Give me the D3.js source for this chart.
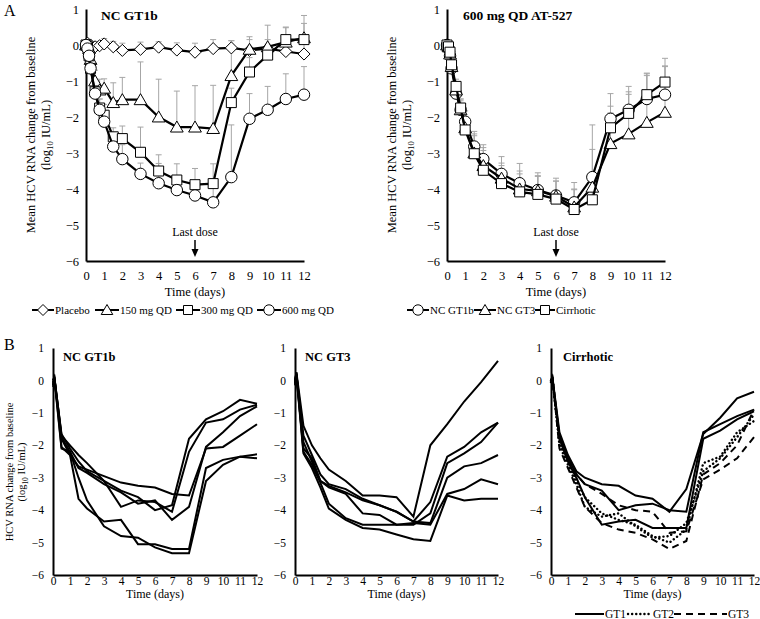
<!DOCTYPE html>
<html><head><meta charset="utf-8">
<script src="https://cdn.jsdelivr.net/npm/d3@7"></script>
<style>body{margin:0;background:#fff}text{font-family:"Liberation Serif","Times New Roman",serif;fill:#000}</style>
</head><body><svg id="c" width="760" height="619"></svg>
<script>
// ---------- DATA ----------
const daysA = [0,0.083,0.167,0.25,0.5,0.75,1,1.5,2,3,4,5,6,7,8,9,10,11,12];
// Panel A left: NC GT1b by dose
const placebo    = [0,0.05,-0.05,0,-0.05,-0.02,0.03,-0.05,-0.15,-0.12,-0.06,-0.14,-0.2,-0.1,-0.08,-0.15,-0.1,-0.18,-0.25];
const placeboErr = [0.1,0.1,0.15,0.1,0.15,0.1,0.15,0.15,0.2,0.2,0.15,0.2,0.25,0.25,0.2,0.3,0.25,0.3,0.3];
const mg150      = [0,0,-0.1,-0.4,-1.0,-1.25,-1.2,-1.6,-1.52,-1.52,-2.0,-2.28,-2.28,-2.32,-0.85,-0.12,-0.05,0.08,0.2];
const mg150Err   = [0.1,0.1,0.2,0.25,0.3,0.3,0.26,0.55,0.62,1.05,1.05,1.0,1.15,1.2,0.97,0.35,0.6,0.4,0.62];
const mg300      = [0,-0.05,-0.3,-0.65,-1.3,-1.75,-1.95,-2.55,-2.6,-2.98,-3.5,-3.75,-3.88,-3.85,-1.6,-0.75,-0.28,0.15,0.15];
const mg300Err   = [0.1,0.1,0.15,0.2,0.2,0.25,0.3,0.25,0.35,0.7,0.45,0.45,0.45,0.55,0.4,0.4,0.3,0.35,0.45];
const mg600      = [0,-0.1,-0.3,-0.65,-1.35,-1.8,-2.13,-2.82,-3.17,-3.58,-3.84,-4.03,-4.18,-4.37,-3.67,-2.05,-1.8,-1.5,-1.38];
const mg600Err   = [0.1,0.1,0.15,0.2,0.25,0.3,0.3,0.35,0.4,0.3,0.55,0.4,0.4,0.55,1.45,0.7,0.65,0.7,0.78];
// Panel A right: 600 mg QD by population
const gt1b       = mg600;
const gt1bErr    = mg600Err;
const gt3        = [0,-0.05,-0.25,-0.6,-1.25,-1.8,-2.3,-3.0,-3.35,-3.7,-4.0,-4.05,-4.2,-4.5,-3.95,-2.74,-2.47,-2.15,-1.87];
const gt3Err     = [0.1,0.1,0.15,0.2,0.2,0.25,0.3,0.6,0.5,0.6,0.5,0.5,0.5,0.5,1.05,0.85,1.1,1.3,1.5];
const cirr       = [0,-0.05,-0.2,-0.55,-1.15,-1.75,-2.36,-3.02,-3.48,-3.85,-4.08,-4.15,-4.28,-4.57,-4.3,-2.3,-1.9,-1.38,-1.03];
const cirrErr    = [0.1,0.1,0.15,0.2,0.2,0.25,0.3,0.5,0.55,0.5,0.5,0.5,0.5,0.55,0.3,0.6,0.6,0.6,0.45];
// Panel B: individual patients
const daysB = [0,0.083,0.5,1,1.5,2,3,4,5,6,7,8,9,10,11,12];
const gt1bPts = [
  [0,0.1,-1.7,-2.0,-2.3,-2.55,-3.1,-3.4,-3.6,-4.0,-3.85,-1.8,-1.2,-0.95,-0.6,-0.72],
  [-0.1,0.05,-1.65,-2.1,-2.5,-2.8,-3.1,-3.9,-3.7,-3.75,-4.05,-2.2,-1.3,-1.2,-0.9,-0.75],
  [0,0.1,-1.75,-2.2,-2.7,-2.85,-3.2,-3.45,-3.8,-3.7,-4.3,-3.9,-2.05,-1.6,-1.1,-0.8],
  [-0.05,0.05,-1.8,-2.3,-2.65,-2.75,-2.95,-3.15,-3.25,-3.3,-3.5,-3.55,-2.1,-2.05,-1.7,-1.35],
  [-0.15,0.1,-2.05,-2.3,-3.65,-3.95,-4.35,-4.3,-5.05,-5.05,-5.2,-5.2,-2.7,-2.45,-2.35,-2.4],
  [-0.2,0.05,-2.1,-2.2,-3.0,-3.7,-4.5,-4.8,-4.85,-5.15,-5.33,-5.33,-3.1,-2.6,-2.35,-2.28]
];
const gt3Pts = [
  [0,0.25,-1.4,-2.0,-2.4,-2.75,-3.1,-3.55,-3.55,-3.6,-4.2,-2.0,-1.35,-0.65,-0.05,0.6],
  [-0.1,0.2,-1.7,-2.3,-2.9,-3.2,-3.35,-3.65,-3.85,-4.05,-4.35,-3.75,-2.35,-2.05,-1.6,-1.3],
  [-0.15,0.15,-2.1,-2.4,-3.1,-3.3,-3.5,-4.1,-4.15,-4.45,-4.45,-4.1,-2.55,-2.25,-1.9,-1.3],
  [0,0.2,-1.9,-2.5,-3.1,-3.25,-3.45,-3.7,-3.85,-4.05,-4.35,-4.4,-3.0,-2.65,-2.55,-2.3],
  [-0.05,0.25,-2.2,-2.6,-3.15,-3.8,-4.25,-4.45,-4.45,-4.45,-4.4,-4.45,-3.5,-3.35,-3.05,-3.2],
  [-0.1,0.15,-2.25,-2.7,-3.3,-3.95,-4.3,-4.55,-4.6,-4.75,-4.9,-4.95,-3.55,-3.7,-3.65,-3.65]
];
const cirrGT1 = [
  [0,0.1,-1.6,-2.3,-2.8,-3.0,-3.2,-3.25,-3.55,-3.65,-4.05,-3.35,-1.65,-1.15,-0.55,-0.35],
  [-0.05,0.05,-1.7,-2.4,-2.9,-3.2,-3.4,-4.0,-3.85,-3.8,-4.0,-4.05,-1.6,-1.35,-1.1,-0.9],
  [0,0.1,-1.8,-2.5,-3.0,-3.6,-4.45,-4.35,-4.3,-4.55,-4.55,-4.55,-1.8,-1.55,-1.2,-0.95]
];
const cirrGT2 = [
  [0,0.05,-1.9,-2.5,-3.1,-3.6,-4.1,-4.3,-4.45,-4.8,-5.0,-4.6,-2.55,-2.35,-1.6,-1.25],
  [-0.05,0.1,-2.0,-2.6,-3.2,-3.9,-4.2,-4.1,-4.5,-4.85,-4.8,-4.4,-2.8,-2.4,-1.75,-1.05]
];
const cirrGT3 = [
  [0,0.05,-1.8,-2.4,-2.9,-3.2,-3.5,-3.85,-4.0,-4.05,-4.7,-4.65,-3.05,-2.75,-2.4,-1.75],
  [-0.05,0.1,-2.1,-2.7,-3.3,-3.9,-4.4,-4.6,-4.7,-4.9,-5.2,-4.95,-2.9,-2.55,-2.0,-0.9]
];
const yTicks = [1,0,-1,-2,-3,-4,-5,-6];
const xTicks = [0,1,2,3,4,5,6,7,8,9,10,11,12];

// ---------- DRAW ----------
const svg = d3.select("#c");

function axes(p, fs, padY, padX){
  const g = svg.append("g");
  const ya = d3.axisLeft(p.y).tickValues(yTicks).tickSize(0).tickPadding(padY).tickFormat(d3.format("d"));
  const xa = d3.axisBottom(p.x).tickValues(xTicks).tickSize(0).tickPadding(padX);
  const gy = g.append("g").attr("transform",`translate(${p.x(0)},0)`).call(ya);
  const gx = g.append("g").attr("transform",`translate(0,${p.y(-6)})`).call(xa);
  [gy,gx].forEach(a=>{
    a.select(".domain").attr("stroke","#000").attr("stroke-width",2);
    a.selectAll("text").style("font-family","Liberation Serif").style("font-size",fs+"px").attr("fill","#000");
  });
  return g;
}
function marker(sel, type, size){
  const s = size;
  let path;
  if(type==="circle") path = d3.symbol(d3.symbolCircle, s*s*0.85)();
  if(type==="square") path = `M${-s/2},${-s/2}h${s}v${s}h${-s}Z`;
  if(type==="triangle") path = `M0,${-s*0.55}L${s*0.58},${s*0.45}L${-s*0.58},${s*0.45}Z`;
  if(type==="diamond") path = `M0,${-s*0.55}L${s*0.55},0L0,${s*0.55}L${-s*0.55},0Z`;
  return sel.append("path").attr("d",path).attr("fill","#fff").attr("stroke","#000").attr("stroke-width",1);
}
function seriesA(p, days, vals, type){
  const g = svg.append("g");
  const line = d3.line().x((d,i)=>p.x(days[i])).y(d=>p.y(d));
  g.append("path").datum(vals).attr("d",line).attr("fill","none").attr("stroke","#000").attr("stroke-width",2.2);
  vals.forEach((v,i)=>{
    const m = marker(g, type, type==="square"?10:11);
    m.attr("transform",`translate(${p.x(days[i])},${p.y(v)})`);
  });
}
function errA(p, days, vals, errs){
  const g = svg.append("g").attr("stroke","#a6a6a6").attr("stroke-width",1);
  vals.forEach((v,i)=>{
    const x = p.x(days[i]), y0 = p.y(v), y1 = p.y(v+errs[i]);
    g.append("line").attr("x1",x).attr("x2",x).attr("y1",y0).attr("y2",y1);
    g.append("line").attr("x1",x-3).attr("x2",x+3).attr("y1",y1).attr("y2",y1);
  });
}
function yTitle(cx, cy, line1, fs, gap){
  const t = svg.append("text").attr("transform",`translate(${cx},${cy}) rotate(-90)`)
    .attr("text-anchor","middle").style("font-size",fs+"px");
  t.append("tspan").attr("x",0).attr("y",0).text(line1);
  t.append("tspan").attr("x",0).attr("y",gap).text("(log");
  t.append("tspan").attr("font-size",(fs*0.7)+"px").attr("dy",fs*0.25).text("10");
  t.append("tspan").attr("dy",-fs*0.25).text(" IU/mL)");
}
function lastDose(p){
  const x = p.x(6);
  svg.append("text").attr("x",x).attr("y",236).attr("text-anchor","middle").style("font-size","12px").text("Last dose");
  svg.append("line").attr("x1",x).attr("x2",x).attr("y1",240).attr("y2",250).attr("stroke","#000").attr("stroke-width",1.5);
  svg.append("path").attr("d",`M${x-3.5},${249}L${x+3.5},${249}L${x},${257}Z`).attr("fill","#000");
}

// Panel A
const pA1 = {x:d3.scaleLinear().domain([0,12]).range([86,304]), y:d3.scaleLinear().domain([-6,1]).range([261,9])};
const pA2 = {x:d3.scaleLinear().domain([0,12]).range([447,665]), y:d3.scaleLinear().domain([-6,1]).range([261,9])};
[pA1,pA2].forEach(p=>{axes(p,12.5,7,10);});

errA(pA1, daysA, placebo, placeboErr);
errA(pA1, daysA, mg150, mg150Err);
errA(pA1, daysA, mg300, mg300Err);
errA(pA1, daysA, mg600, mg600Err);
seriesA(pA1, daysA, placebo, "diamond");
seriesA(pA1, daysA, mg150, "triangle");
seriesA(pA1, daysA, mg300, "square");
seriesA(pA1, daysA, mg600, "circle");

errA(pA2, daysA, gt1b, gt1bErr);
errA(pA2, daysA, gt3, gt3Err);
errA(pA2, daysA, cirr, cirrErr);
seriesA(pA2, daysA, gt1b, "circle");
seriesA(pA2, daysA, gt3, "triangle");
seriesA(pA2, daysA, cirr, "square");

svg.append("text").attr("x",101).attr("y",20).style("font-size","13.5px").style("font-weight","bold").text("NC GT1b");
svg.append("text").attr("x",463).attr("y",20).style("font-size","13.5px").style("font-weight","bold").text("600 mg QD AT-527");
lastDose(pA1); lastDose(pA2);
yTitle(35,135,"Mean HCV RNA change from baseline",12.5,15);
yTitle(396,135,"Mean HCV RNA change from baseline",12.5,15);
[pA1,pA2].forEach(p=>{
  svg.append("text").attr("x",(p.x(0)+p.x(12))/2).attr("y",296).attr("text-anchor","middle").style("font-size","12.5px").text("Time (days)");
});
svg.append("text").attr("x",4).attr("y",16).style("font-size","16px").text("A");
svg.append("text").attr("x",4).attr("y",350).style("font-size","16px").text("B");

// Legends A
function legA(items, y){
  items.forEach(it=>{
    svg.append("line").attr("x1",it.x1).attr("x2",it.x2).attr("y1",y).attr("y2",y).attr("stroke","#000").attr("stroke-width",2);
    marker(svg, it.type, it.type==="square"?9:10).attr("transform",`translate(${(it.x1+it.x2)/2},${y})`);
    svg.append("text").attr("x",it.x2+1).attr("y",y+4).style("font-size","11px").text(it.label);
  });
}
legA([{x1:32,x2:54,type:"diamond",label:"Placebo"},{x1:95,x2:119,type:"triangle",label:"150 mg QD"},
      {x1:176,x2:200,type:"square",label:"300 mg QD"},{x1:257,x2:281,type:"circle",label:"600 mg QD"}],310);
legA([{x1:407,x2:429,type:"circle",label:"NC GT1b"},{x1:474,x2:496,type:"triangle",label:"NC GT3"},
      {x1:535,x2:555,type:"square",label:"Cirrhotic"}],310);

// Panel B
const yB = d3.scaleLinear().domain([-6,1]).range([575,348]);
const pB1 = {x:d3.scaleLinear().domain([0,12]).range([53,257]), y:yB};
const pB2 = {x:d3.scaleLinear().domain([0,12]).range([295,498]), y:yB};
const pB3 = {x:d3.scaleLinear().domain([0,12]).range([551,754]), y:yB};
[pB1,pB2,pB3].forEach(p=>{
  axes(p,11.5,9,2);
  svg.append("text").attr("x",(p.x(0)+p.x(12))/2).attr("y",598).attr("text-anchor","middle").style("font-size","12px").text("Time (days)");
});
function dashOf(kind){ return kind==="dot"?"0.1,4":kind==="dash"?"7,5":null; }
function linesB(p, sets, kind){
  const line = d3.line().x((d,i)=>p.x(daysB[i])).y(d=>p.y(d));
  sets.forEach(s=>{
    svg.append("path").datum(s).attr("d",line).attr("fill","none").attr("stroke","#000")
      .attr("stroke-width",kind==="dot"?2.4:2).attr("stroke-linecap",kind==="dot"?"round":"butt")
      .attr("stroke-dasharray",dashOf(kind));
  });
}
linesB(pB1, gt1bPts, null);
linesB(pB2, gt3Pts, null);
linesB(pB3, cirrGT1, null);
linesB(pB3, cirrGT2, "dot");
linesB(pB3, cirrGT3, "dash");
svg.append("text").attr("x",63).attr("y",361).style("font-size","12.5px").style("font-weight","bold").text("NC GT1b");
svg.append("text").attr("x",305).attr("y",361).style("font-size","12.5px").style("font-weight","bold").text("NC GT3");
svg.append("text").attr("x",563).attr("y",361).style("font-size","12.5px").style("font-weight","bold").text("Cirrhotic");
yTitle(13,472,"HCV RNA change from baseline",10.5,12);

// Legend B
const lyB = 614;
[{x1:575,x2:604,kind:null,label:"GT1",tx:605},{x1:628,x2:652,kind:"dot",label:"GT2",tx:653},
 {x1:674,x2:727,kind:"dash",label:"GT3",tx:728}].forEach(it=>{
  svg.append("line").attr("x1",it.x1).attr("x2",it.x2).attr("y1",lyB).attr("y2",lyB).attr("stroke","#000")
    .attr("stroke-width",it.kind==="dot"?2.4:2).attr("stroke-linecap",it.kind==="dot"?"round":"butt")
    .attr("stroke-dasharray",dashOf(it.kind));
  svg.append("text").attr("x",it.tx).attr("y",lyB+4).style("font-size","11.5px").text(it.label);
});
</script></body></html>
